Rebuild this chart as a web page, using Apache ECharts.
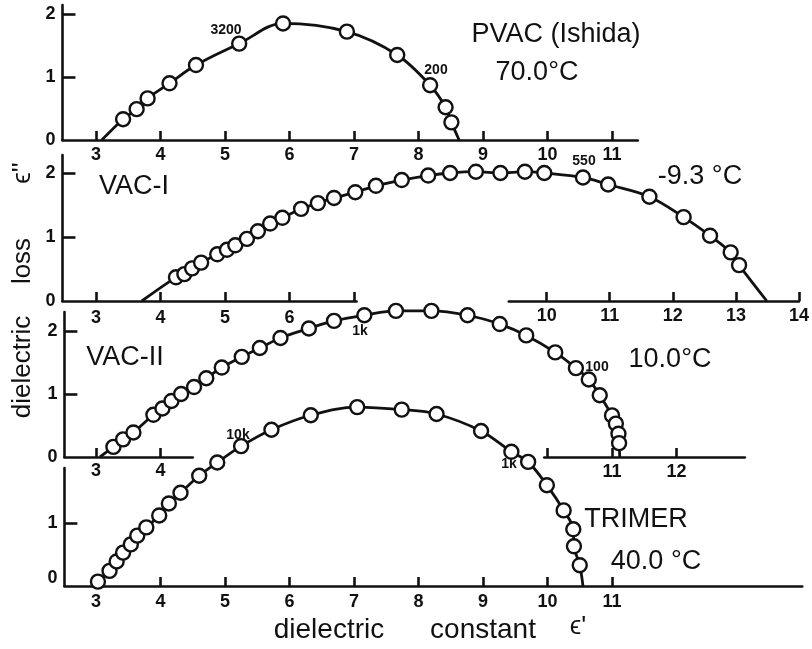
<!DOCTYPE html>
<html>
<head>
<meta charset="utf-8">
<script src="https://cdn.jsdelivr.net/npm/echarts@6/dist/echarts.min.js"></script>
<style>html,body{margin:0;padding:0;background:#fff}#c{width:812px;height:649px}</style>
</head>
<body>
<div id="c"></div>
<script>
// ---- data ----
const pvacX = [3.42,3.63,3.80,4.14,4.55,5.22,5.90,6.89,7.67,8.18,8.42,8.51];
const pvacY = [0.33,0.49,0.66,0.90,1.19,1.53,1.85,1.72,1.35,0.87,0.52,0.28];
const pvacEnds = [3.09, 8.63];

const vac1X = [4.24,4.37,4.49,4.63,4.88,5.03,5.16,5.34,5.51,5.70,5.89,6.18,6.44,6.69,7.02,7.34,7.74,8.15,8.49,8.89,9.27,9.65,9.95,10.55,10.94,11.58,12.11,12.52,12.84,12.97];
const vac1Y = [0.37,0.42,0.51,0.60,0.73,0.80,0.87,0.97,1.09,1.21,1.30,1.44,1.53,1.61,1.70,1.80,1.89,1.96,2.00,2.02,2.00,2.02,2.00,1.93,1.82,1.63,1.31,1.02,0.76,0.56];
const vac1Ends = [3.71, 13.40];

const vac2X = [3.27,3.42,3.58,3.89,4.03,4.17,4.32,4.52,4.71,4.95,5.26,5.54,5.86,6.30,6.69,7.16,7.65,8.20,8.76,9.26,9.67,10.12,10.44,10.64,10.81,11.00,11.06,11.10,11.11];
const vac2Y = [0.16,0.28,0.39,0.67,0.77,0.89,1.00,1.11,1.25,1.42,1.59,1.73,1.89,2.04,2.16,2.25,2.32,2.32,2.25,2.11,1.93,1.66,1.41,1.23,0.98,0.66,0.53,0.37,0.22];
const vac2Ends = [3.06, 11.12];

const trimerX = [3.03,3.21,3.32,3.42,3.54,3.64,3.78,3.98,4.13,4.31,4.60,4.88,5.25,5.72,6.33,7.05,7.74,8.28,8.97,9.44,9.70,9.99,10.25,10.40,10.41,10.50];
const trimerY = [0.07,0.24,0.39,0.53,0.66,0.80,0.93,1.12,1.31,1.48,1.75,1.96,2.22,2.48,2.71,2.84,2.80,2.73,2.46,2.13,1.97,1.60,1.20,0.90,0.63,0.33];
const trimerEnds = [3.00, 10.55];

// tick / label values
const ticksPvac = [3,4,5,6,7,8,9,10,11], labelsPvac = [3,4,5,6,7,8,9,10,11];
const ticksV1a = [3,4,5,6,7], labelsV1a = [3,4,5,6];
const ticksV1b = [10,11,12,13,14], labelsV1b = [10,11,12,13,14];
const ticksV2a = [3,4], labelsV2a = [3,4];
const ticksV2b = [10,11,12], labelsV2b = [11,12];
const ticksTri = [3,4,5,6,7,8,9,10,11], labelsTri = [3,4,5,6,7,8,9,10,11];

// ---- layout ----
const PX = 64.5, X3 = 96;
function X(v){ return X3 + (v - 3) * PX; }
function grid(xmin, xmax, top, height){ return {left: X(xmin), width: (xmax - xmin) * PX, top: top, height: height}; }

const FONT = 'Liberation Sans, Arial, sans-serif';
const INK = '#111';

function xAx(i, min, max, ticks, labels, margin){
  return {type:'value', gridIndex:i, min:min, max:max,
    axisLine:{show:true, onZero:false, lineStyle:{color:INK, width:2.6}},
    axisTick:{show:true, inside:true, length:9, customValues:ticks, lineStyle:{color:INK, width:2.6}},
    axisLabel:{show:true, customValues:labels, margin:margin, color:INK, fontSize:18, fontWeight:'bold', fontFamily:FONT},
    splitLine:{show:false}};
}
function xHidden(i, min, max){ return {type:'value', gridIndex:i, min:min, max:max, show:false, splitLine:{show:false}}; }
function yAx(i, max, ticks, labels){
  return {type:'value', gridIndex:i, min:0, max:max,
    axisLine:{show:true, onZero:false, lineStyle:{color:INK, width:2.6}},
    axisTick:{show:true, inside:true, length:13, customValues:ticks, lineStyle:{color:INK, width:2.6}},
    axisLabel:{show:true, customValues:labels, margin:7, color:INK, fontSize:18, fontWeight:'bold', fontFamily:FONT,
      formatter: v => String(Math.round(v))},
    splitLine:{show:false}};
}
function yHidden(i){ return {type:'value', gridIndex:i, min:0, max:1, show:false, splitLine:{show:false}}; }

function curve(i, xs, ys, ends){
  const pts = xs.map((x,k)=>[x, ys[k]]);
  const line = [[ends[0],0]].concat(pts, [[ends[1],0]]);
  return [
    {type:'line', xAxisIndex:i, yAxisIndex:i, data:line, smooth:0.35, symbol:'none', clip:false,
      lineStyle:{color:INK, width:2.8}, z:2, silent:true, animation:false},
    {type:'scatter', xAxisIndex:i, yAxisIndex:i, data:pts, symbol:'circle', symbolSize:14, clip:false,
      itemStyle:{color:'#fff', borderColor:INK, borderWidth:2.4, opacity:1}, z:3, silent:true, animation:false}
  ];
}

function txt(x, y, s, size, weight, extra){
  return Object.assign({type:'text', x:x, y:y, silent:true,
    style:{text:s, fill:INK, font:weight+' '+size+'px '+FONT, textAlign:'center', textVerticalAlign:'middle'}}, extra||{});
}

const option = {
  animation:false,
  backgroundColor:'#fff',
  grid:[
    grid(2.48, 11.40, 5, 135),     // 0 PVAC
    grid(2.48, 14.00, 155, 146),   // 1 VAC-I data + y axis
    grid(2.48, 7.04, 155, 146),    // 2 VAC-I left x segment
    grid(9.40, 14.00, 155, 146),   // 3 VAC-I right x segment
    grid(2.51, 13.06, 312, 145),   // 4 VAC-II data + y axis
    grid(2.51, 4.50, 312, 145),    // 5 VAC-II left x segment
    grid(9.95, 13.06, 312, 145),   // 6 VAC-II right x segment
    grid(2.51, 13.95, 468, 118)    // 7 TRIMER
  ],
  xAxis:[
    xAx(0, 2.48, 11.40, ticksPvac, labelsPvac, 6),
    xHidden(1, 2.48, 14.00),
    xAx(2, 2.48, 7.04, ticksV1a, labelsV1a, 8),
    xAx(3, 9.40, 14.00, ticksV1b, labelsV1b, 6),
    xHidden(4, 2.51, 13.06),
    xAx(5, 2.51, 4.50, ticksV2a, labelsV2a, 5),
    xAx(6, 9.95, 13.06, ticksV2b, labelsV2b, 6),
    xAx(7, 2.51, 13.95, ticksTri, labelsTri, 7)
  ],
  yAxis:[
    yAx(0, 135/63, [1,2], [0,1,2]),
    yAx(1, 146/64, [1,2], [0,1,2]),
    yHidden(2),
    yHidden(3),
    yAx(4, 145/63, [1,2], [0,1,2]),
    yHidden(5),
    yHidden(6),
    yAx(7, 118/63, [1], [0.13,1])
  ],
  series:[].concat(
    curve(0, pvacX, pvacY, pvacEnds),
    curve(1, vac1X, vac1Y, vac1Ends),
    curve(4, vac2X, vac2Y, vac2Ends),
    curve(7, trimerX, trimerY, trimerEnds)
  ),
  graphic:[
    txt(556, 35, 'PVAC (Ishida)', 27, 'normal'),
    txt(537, 73, '70.0°C', 27, 'normal'),
    txt(134, 187, 'VAC-I', 27, 'normal'),
    txt(700, 177, '-9.3 °C', 27, 'normal'),
    txt(125, 358, 'VAC-II', 27, 'normal'),
    txt(670, 360, '10.0°C', 27, 'normal'),
    txt(636, 520, 'TRIMER', 27, 'normal'),
    txt(656, 562, '40.0 °C', 27, 'normal'),
    txt(226, 30, '3200', 14, 'bold'),
    txt(436, 70, '200', 14, 'bold'),
    txt(584, 161, '550', 14, 'bold'),
    txt(360, 331, '1k', 14, 'bold'),
    txt(597, 367, '100', 14, 'bold'),
    txt(238, 435, '10k', 14, 'bold'),
    txt(509, 464, '1k', 14, 'bold'),
    txt(329, 630, 'dielectric', 28, 'normal'),
    txt(483, 630, 'constant', 28, 'normal'),
    txt(578, 627, "\u03F5'", 26, 'normal'),
    txt(23, 367, 'dielectric', 26, 'normal', {rotation:Math.PI/2}),
    txt(23, 261, 'loss', 26, 'normal', {rotation:Math.PI/2}),
    txt(23, 173, "\u03F5''", 26, 'normal', {rotation:Math.PI/2})
  ]
};

const chart = echarts.init(document.getElementById('c'), null, {renderer:'canvas'});
chart.setOption(option);
</script>
</body>
</html>
